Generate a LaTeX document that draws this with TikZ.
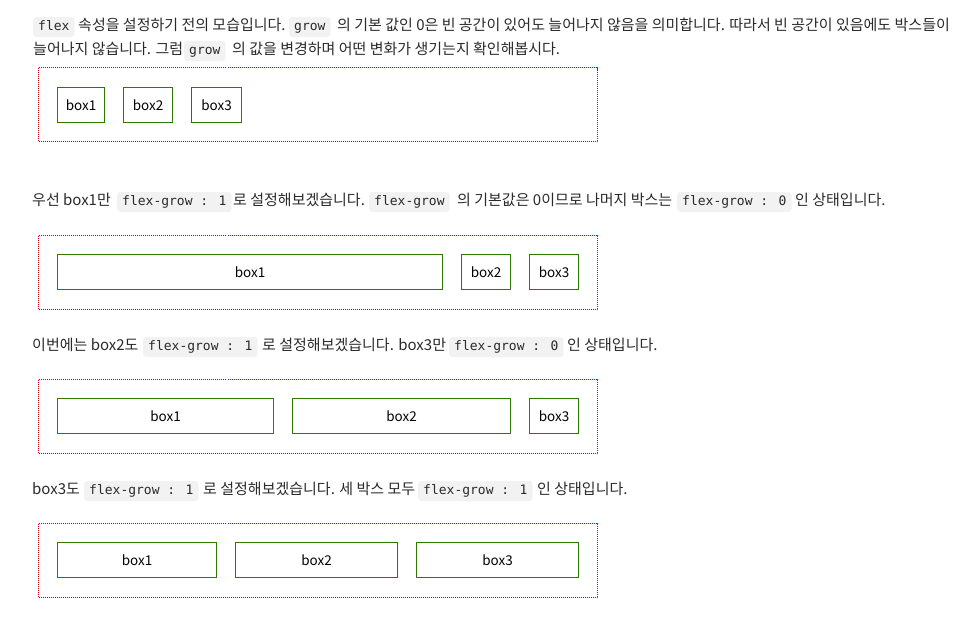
\documentclass[tikz,border=0pt]{standalone}
\usepackage{fontspec}
\setmainfont{Noto Sans CJK KR}
\newfontfamily\codefont{DejaVu Sans Mono}
\definecolor{txt}{HTML}{2A2A2A}
\definecolor{chipbg}{HTML}{F2F2F2}
\definecolor{contred}{HTML}{CC0000}
\definecolor{boxgreen}{HTML}{2E7800}
\begin{document}
\begin{tikzpicture}[x=1pt,y=-1pt,
  para/.style={anchor=base west,inner sep=0pt,text=txt,font=\fontsize{15}{17}\selectfont},
  chip/.style={anchor=base west,fill=chipbg,rounded corners=3pt,inner xsep=5pt,inner ysep=3pt,
    text height=10pt,text depth=4pt,text=txt,font=\codefont\fontsize{13}{15}\selectfont},
  cont/.style={draw=contred,line width=1pt,dash pattern=on 1pt off 1pt,anchor=north west,
    minimum height=74pt,minimum width=559pt,inner sep=0pt},
  flexbox/.style={draw=boxgreen,line width=1pt,anchor=north west,minimum height=35pt,inner sep=0pt,
    font=\fontsize{13.5}{15}\selectfont,text=black}]
\useasboundingbox (0,0) rectangle (966,616);

% paragraph 1
\node[chip] (p1a) at (33,30) {flex};
\node[para] (p1b) at (78,30) {속성을 설정하기 전의 모습입니다.};
\node[chip] (p1c) at (289,30) {grow};
\node[para] (p1d) at (337,30) {의 기본 값인 0은 빈 공간이 있어도 늘어나지 않음을 의미합니다. 따라서 빈 공간이 있음에도 박스들이};
\node[para] (p1e) at (33,54) {늘어나지 않습니다. 그럼};
\node[chip] (p1f) at (184,54) {grow};
\node[para] (p1g) at (232,54) {의 값을 변경하며 어떤 변화가 생기는지 확인해봅시다.};

\node[cont] (c1) at (38,67) {};
\node[flexbox,minimum width=47pt] (b11) at (57,87) {box1};
\node[flexbox,minimum width=49pt] (b12) at (123,87) {box2};
\node[flexbox,minimum width=50pt] (b13) at (191,87) {box3};

% paragraph 2
\node[para] (p2a) at (32,205) {우선 box1만};
\node[chip] (p2b) at (117,205) {flex-grow : 1};
\node[para] (p2c) at (233,205) {로 설정해보겠습니다.};
\node[chip] (p2d) at (369,205) {flex-grow};
\node[para] (p2e) at (457,205) {의 기본값은 0이므로 나머지 박스는};
\node[chip] (p2f) at (677,205) {flex-grow : 0};
\node[para] (p2g) at (795,205) {인 상태입니다.};

\node[cont] (c2) at (38,235) {};
\node[flexbox,minimum width=385pt] (b21) at (57,254) {box1};
\node[flexbox,minimum width=49pt] (b22) at (461,254) {box2};
\node[flexbox,minimum width=49pt] (b23) at (529,254) {box3};

% paragraph 3
\node[para] (p3a) at (32,350) {이번에는 box2도};
\node[chip] (p3b) at (143,350) {flex-grow : 1};
\node[para] (p3c) at (262,350) {로 설정해보겠습니다. box3만};
\node[chip] (p3d) at (449,350) {flex-grow : 0};
\node[para] (p3e) at (567,350) {인 상태입니다.};

\node[cont] (c3) at (38,379) {};
\node[flexbox,minimum width=216pt] (b31) at (57,398) {box1};
\node[flexbox,minimum width=218pt] (b32) at (292,398) {box2};
\node[flexbox,minimum width=49pt] (b33) at (529,398) {box3};

% paragraph 4
\node[para] (p4a) at (32,494) {box3도};
\node[chip] (p4b) at (84,494) {flex-grow : 1};
\node[para] (p4c) at (203,494) {로 설정해보겠습니다. 세 박스 모두};
\node[chip] (p4d) at (418,494) {flex-grow : 1};
\node[para] (p4e) at (537,494) {인 상태입니다.};

\node[cont] (c4) at (38,523) {};
\node[flexbox,minimum width=159pt] (b41) at (57,542) {box1};
\node[flexbox,minimum width=162pt] (b42) at (235,542) {box2};
\node[flexbox,minimum width=162pt] (b43) at (416,542) {box3};
\end{tikzpicture}
\end{document}
